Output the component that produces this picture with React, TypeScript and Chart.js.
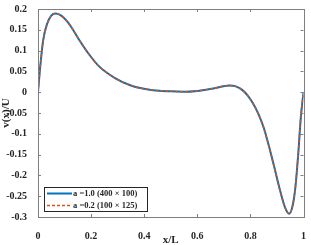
import { useEffect, useRef } from "react";
import { Chart, registerables } from "chart.js";

Chart.register(...registerables);

const xValues = [0, 0.007, 0.019, 0.033, 0.05, 0.067, 0.09, 0.11, 0.13, 0.156, 0.19, 0.23, 0.29, 0.35, 0.42, 0.5, 0.55, 0.6, 0.66, 0.72, 0.745, 0.77, 0.79, 0.81, 0.83, 0.85, 0.87, 0.89, 0.91, 0.93, 0.946, 0.96, 0.97, 0.98, 0.99, 1.0];
const seriesA = [0, 0.052, 0.123, 0.162, 0.184, 0.189, 0.183, 0.170, 0.152, 0.125, 0.093, 0.062, 0.034, 0.016, 0.006, 0.002, 0.001, 0.003, 0.009, 0.016, 0.014, 0.005, -0.008, -0.027, -0.052, -0.085, -0.13, -0.18, -0.232, -0.276, -0.292, -0.27, -0.225, -0.15, -0.06, 0.0];
const seriesB = [0, 0.051, 0.122, 0.161, 0.184, 0.189, 0.183, 0.170, 0.152, 0.125, 0.093, 0.062, 0.034, 0.016, 0.006, 0.002, 0.001, 0.003, 0.009, 0.016, 0.014, 0.005, -0.008, -0.027, -0.052, -0.086, -0.131, -0.181, -0.233, -0.277, -0.292, -0.27, -0.224, -0.148, -0.058, 0.0];
const xTicks = [0, 0.2, 0.4, 0.6, 0.8, 1];
const yTicks = [-0.3, -0.25, -0.2, -0.15, -0.1, -0.05, 0, 0.05, 0.1, 0.15, 0.2];
const seriesLabels = ["a =1.0 (400 \u00d7 100)", "a =0.2 (100 \u00d7 125)"];
const xTitle = "x/L";
const yTitle = "v(x)/U";

const BLUE = "#0072BD";
const ORANGE = "#D95319";
const AXIS = "#262626";
const FONT = "'Liberation Serif', 'Times New Roman', serif";

export default function App() {
  const ref = useRef<HTMLCanvasElement | null>(null);
  useEffect(() => {
    if (!ref.current) return;
    const boxPlugin = {
      id: "matlabBox",
      afterDraw(chart: any) {
        const { ctx, chartArea: a } = chart;
        const xs = chart.scales.x;
        const ys = chart.scales.y;
        ctx.save();
        ctx.strokeStyle = "#7f7f7f";
        ctx.lineWidth = 1;
        ctx.strokeRect(Math.round(a.left) + 0.5, Math.round(a.top) + 0.5, Math.round(a.right - a.left), Math.round(a.bottom - a.top));
        const tl = 3;
        ctx.beginPath();
        xTicks.forEach((v) => {
          const px = Math.round(xs.getPixelForValue(v)) + 0.5;
          ctx.moveTo(px, a.bottom);
          ctx.lineTo(px, a.bottom - tl);
          ctx.moveTo(px, a.top);
          ctx.lineTo(px, a.top + tl);
        });
        yTicks.forEach((v) => {
          const py = Math.round(ys.getPixelForValue(v)) + 0.5;
          ctx.moveTo(a.left, py);
          ctx.lineTo(a.left + tl, py);
          ctx.moveTo(a.right, py);
          ctx.lineTo(a.right - tl, py);
        });
        ctx.stroke();

        // legend
        const lx = a.left + 6, ly = 187, lw = 103, lh = 24;
        ctx.fillStyle = "#ffffff";
        ctx.fillRect(lx, ly, lw, lh);
        ctx.strokeStyle = "#262626";
        ctx.strokeRect(lx + 0.5, ly + 0.5, lw, lh);
        const rows = [ly + 6.5, ly + 18.5];
        ctx.lineWidth = 2;
        ctx.strokeStyle = BLUE;
        ctx.beginPath();
        ctx.moveTo(lx + 3, rows[0]);
        ctx.lineTo(lx + 28, rows[0]);
        ctx.stroke();
        ctx.lineWidth = 1.5;
        ctx.strokeStyle = ORANGE;
        ctx.setLineDash([3, 2]);
        ctx.beginPath();
        ctx.moveTo(lx + 3, rows[1]);
        ctx.lineTo(lx + 28, rows[1]);
        ctx.stroke();
        ctx.setLineDash([]);
        ctx.fillStyle = AXIS;
        ctx.font = `bold 8.5px ${FONT}`;
        ctx.textBaseline = "middle";
        ctx.textAlign = "left";
        ctx.fillText(seriesLabels[0], lx + 29, rows[0]);
        ctx.fillText(seriesLabels[1], lx + 29, rows[1]);
        ctx.restore();
      },
    };
    const chart = new Chart(ref.current, {
      type: "line",
      data: {
        datasets: [
          {
            label: seriesLabels[0],
            data: xValues.map((x, i) => ({ x, y: seriesA[i] })),
            borderColor: BLUE,
            borderWidth: 2,
            pointRadius: 0,
            order: 2,
            cubicInterpolationMode: "monotone",
          },
          {
            label: seriesLabels[1],
            data: xValues.map((x, i) => ({ x, y: seriesB[i] })),
            borderColor: ORANGE,
            borderWidth: 1.5,
            borderDash: [3, 2],
            pointRadius: 0,
            order: 1,
            cubicInterpolationMode: "monotone",
          },
        ],
      },
      options: {
        animation: false,
        responsive: true,
        maintainAspectRatio: false,
        layout: { padding: { top: 4, right: 3, left: 0, bottom: 0 } },
        plugins: { legend: { display: false }, tooltip: { enabled: false } },
        scales: {
          x: {
            type: "linear",
            min: 0,
            max: 1,
            grid: { display: false },
            border: { display: false },
            afterBuildTicks: (s: any) => {
              s.ticks = xTicks.map((v) => ({ value: v }));
            },
            afterFit: (s: any) => {
              s.height = 28;
            },
            ticks: {
              color: AXIS,
              font: { family: FONT, size: 10, weight: "bold" },
              padding: 5,
              maxRotation: 0,
              callback: (v: any) => String(Number(Number(v).toFixed(2))),
            },
            title: {
              display: true,
              text: xTitle,
              color: AXIS,
              font: { family: FONT, size: 11, weight: "bold" },
              padding: { top: 0, bottom: -2 },
            },
          },
          y: {
            type: "linear",
            min: -0.3,
            max: 0.2,
            grid: { display: false },
            border: { display: false },
            afterBuildTicks: (s: any) => {
              s.ticks = yTicks.map((v) => ({ value: v }));
            },
            afterFit: (s: any) => {
              s.width = 38;
            },
            ticks: {
              color: AXIS,
              font: { family: FONT, size: 10, weight: "bold" },
              padding: 3,
              callback: (v: any) => String(Number(Number(v).toFixed(2))),
            },
            title: {
              display: true,
              text: yTitle,
              color: AXIS,
              font: { family: FONT, size: 11, weight: "bold" },
              padding: { top: 0, bottom: 0 },
            },
          },
        },
      },
      plugins: [boxPlugin],
    });
    return () => chart.destroy();
  }, []);
  return (
    <div style={{ position: "absolute", left: 0, top: 0, width: 311, height: 245, background: "#fff" }}>
      <canvas ref={ref} />
    </div>
  );
}
